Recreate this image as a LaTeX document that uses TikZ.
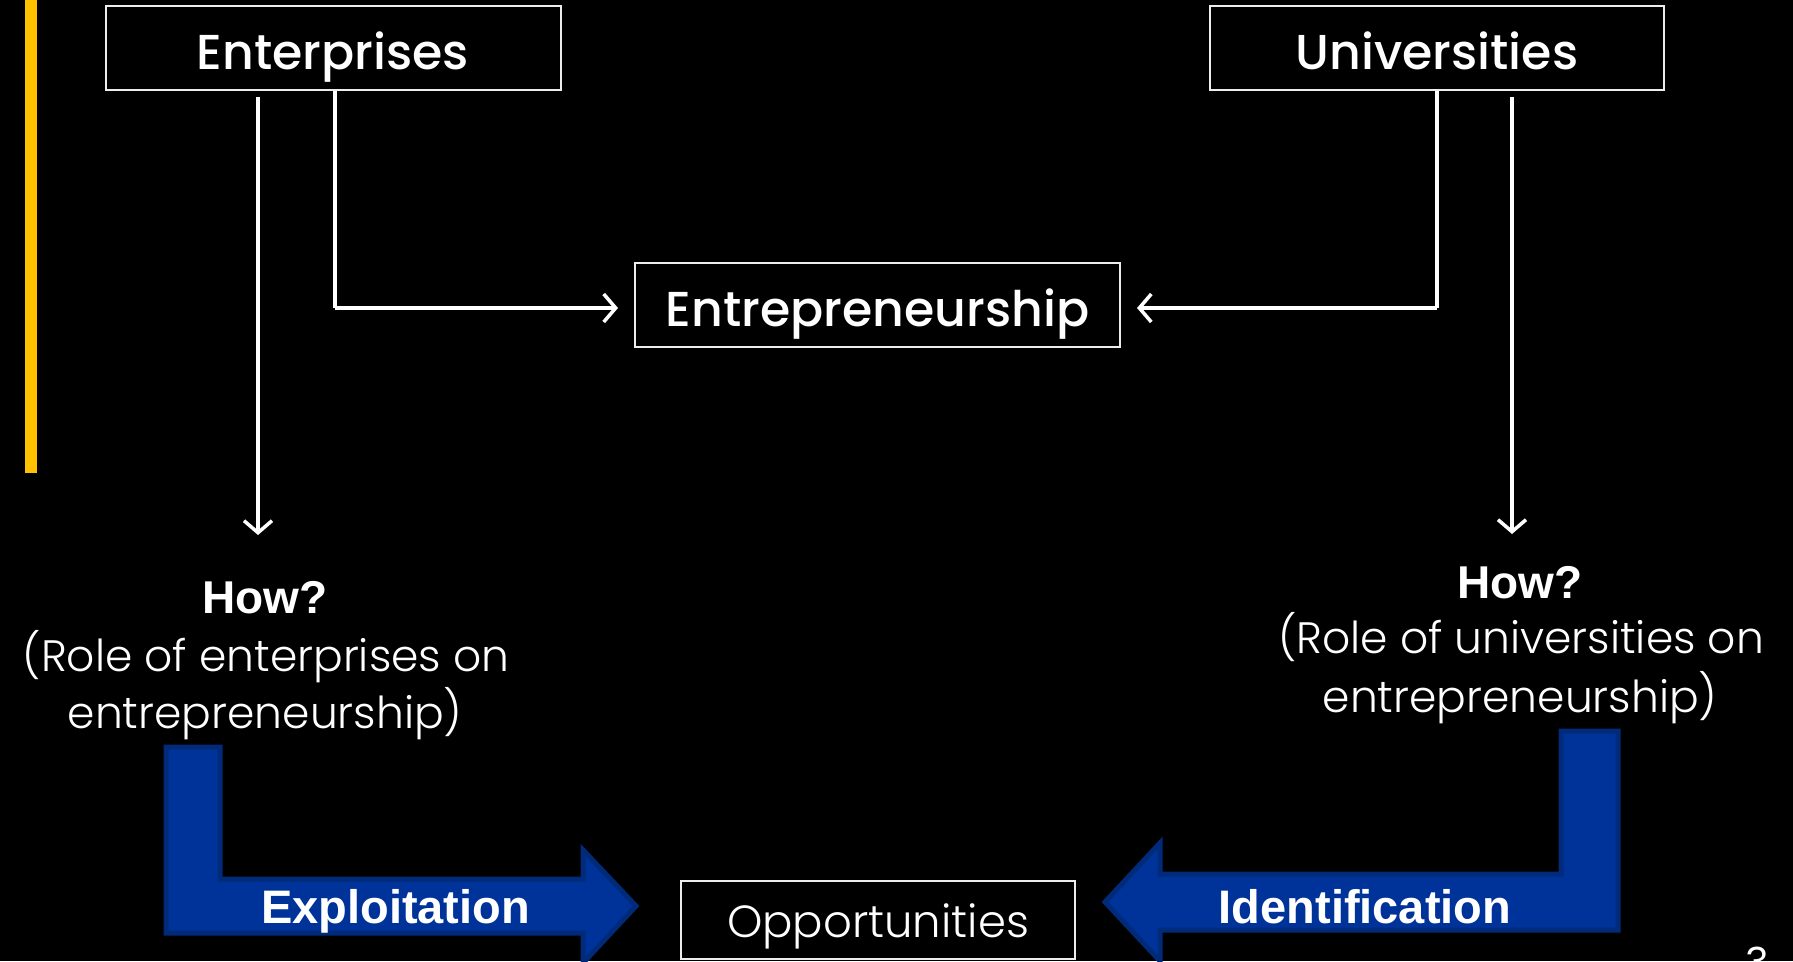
\documentclass[tikz,border=0pt]{standalone}
\usepackage{fontspec}
\setmainfont{Poppins}
\newfontfamily\lightf{Poppins Light}
\newfontfamily\mediumf{Poppins Medium}
\newfontfamily\arialf{Liberation Sans}
\usetikzlibrary{arrows.meta}
\definecolor{baryellow}{HTML}{FFC000}
\definecolor{bluefill}{HTML}{003399}
\definecolor{blueedge}{HTML}{002A7A}
\definecolor{boxedge}{HTML}{EDEDED}
\tikzset{
  titlebox/.style={draw=boxedge, line width=2pt, text=white, inner sep=0pt,
    text height=42pt, text depth=0pt,
    font=\mediumf\fontsize{49}{59}\selectfont},
  oppbox/.style={draw=boxedge, line width=2pt, text=white, inner sep=0pt,
    text height=34pt, text depth=0pt,
    font=\lightf\fontsize{45}{54}\selectfont},
  flow/.style={draw=white, line width=3.5pt},
  tip/.style={-{Straight Barb[length=12pt,width=28pt]}},
  howtxt/.style={text=white, anchor=base, inner sep=0pt,
    font=\arialf\bfseries\fontsize{46}{55}\selectfont},
  roletxt/.style={text=white, anchor=base, inner sep=0pt,
    font=\lightf\fontsize{44}{52}\selectfont},
  bigarrow/.style={fill=bluefill, draw=blueedge, line width=5pt, line join=miter},
  arrowtxt/.style={text=white, anchor=base, inner sep=0pt,
    font=\arialf\bfseries\fontsize{47}{56}\selectfont}
}
\begin{document}
\begin{tikzpicture}[x=1pt,y=-1pt]
\useasboundingbox (0,0) rectangle (1793,961);
\fill[black] (0,0) rectangle (1793,961);
\fill[baryellow] (25,0) rectangle (37,473);

% boxes
\node[titlebox, minimum width=455pt, minimum height=84pt] (ent) at (333,48) {Enterprises};
\node[titlebox, minimum width=454pt, minimum height=84pt] (uni) at (1437,48) {Universities};
\node[titlebox, minimum width=485pt, minimum height=84pt] (entre) at (877.5,305) {Entrepreneurship};
\node[oppbox, minimum width=394pt, minimum height=78pt] (opp) at (878,920) {Opportunities};

% connector coordinates
\coordinate (lds) at (258,97);
\coordinate (ldt) at (258,535);
\coordinate (rds) at (1512,97);
\coordinate (rdt) at (1512,534);
\coordinate (lc) at (335,308);
\coordinate (rc) at (1437,308);

\draw[flow] (ent.south -| lc) -- (lc);
\draw[flow, tip, shorten >=16pt] (lc) -- (lc -| entre.west);
\draw[flow] (uni.south -| rc) -- (rc);
\draw[flow, tip, shorten >=16pt] (rc) -- (rc -| entre.east);
\draw[flow, tip] (lds) -- (ldt);
\draw[flow, tip] (rds) -- (rdt);

% how texts
\node[howtxt] (howl) at (265,613) {How?};
\node[roletxt] (rolel1) at (266,671) {(Role of enterprises on};
\node[roletxt] (rolel2) at (265,728) {entrepreneurship)};
\node[howtxt] (howr) at (1520,598) {How?};
\node[roletxt] (roler1) at (1521,653) {(Role of universities on};
\node[roletxt] (roler2) at (1520,712) {entrepreneurship)};

% big blue arrows
\draw[bigarrow] (166,747) -- (220,747) -- (220,879) -- (583,879) -- (583,850)
  -- (636,906) -- (583,963) -- (583,933) -- (166,933) -- cycle;
\draw[bigarrow] (1618,731) -- (1561,731) -- (1561,874) -- (1160,874) -- (1160,843)
  -- (1105,902) -- (1160,961) -- (1160,930) -- (1618,930) -- cycle;
\node[arrowtxt] (expl) at (395.5,923) {Exploitation};
\node[arrowtxt] (ident) at (1365,923) {Identification};

% page number (cut off at the bottom edge, as in the slide)
\node[text=white, anchor=north, inner sep=0pt, font=\fontsize{40}{48}\selectfont] (pnum) at (1757,947) {3};
\end{tikzpicture}
\end{document}
